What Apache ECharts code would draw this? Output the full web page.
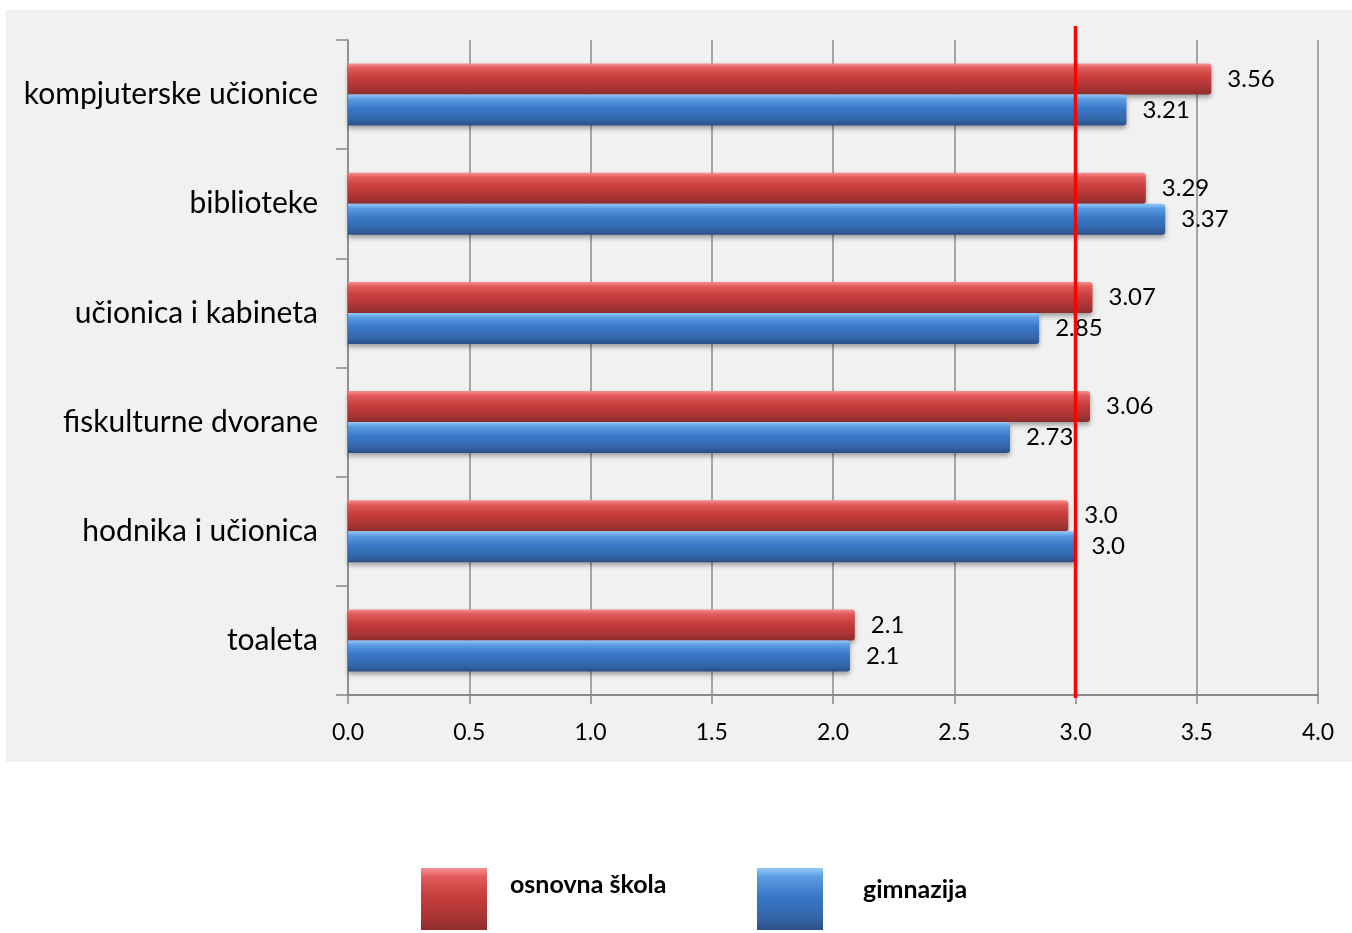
<!DOCTYPE html>
<html>
<head>
<meta charset="utf-8">
<script src="https://cdn.jsdelivr.net/npm/echarts@6/dist/echarts.min.js"></script>
<style>html,body{margin:0;padding:0;background:#fff}#c{width:1352px;height:933px}</style>
</head>
<body>
<div id="c"></div>
<script>
const categories = ['kompjuterske učionice','biblioteke','učionica i kabineta','fiskulturne dvorane','hodnika i učionica','toaleta'];
const osnovnaValues = [3.56, 3.29, 3.07, 3.06, 2.97, 2.09];
const osnovnaLabels = ['3.56','3.29','3.07','3.06','3.0','2.1'];
const gimnazijaValues = [3.21, 3.37, 2.85, 2.73, 3.0, 2.07];
const gimnazijaLabels = ['3.21','3.37','2.85','2.73','3.0','2.1'];
const xTicks = [0, 0.5, 1, 1.5, 2, 2.5, 3, 3.5, 4];
const thresholdValue = 3.0;

const FONT = 'Lato';
const chart = echarts.init(document.getElementById('c'));

function grad(stops){
  return new echarts.graphic.LinearGradient(0,0,0,1, stops.map((c,i)=>({offset:c[0], color:c[1]})));
}
const redGrad = grad([[0,'#f59090'],[0.15,'#e25a5a'],[0.45,'#c83d3d'],[0.8,'#a83434'],[1,'#8e2d2d']]);
const blueGrad = grad([[0,'#94c8f8'],[0.15,'#5a9be2'],[0.45,'#3a78c8'],[0.8,'#3366aa'],[1,'#2c4f86']]);

const gridLeft = 348, gridRight = 34, gridTop = 40, gridBottom = 238;

chart.setOption({
  backgroundColor: '#ffffff',
  animation: false,
  graphic: [{
    type: 'rect', left: 6, top: 10, z: -10, silent: true,
    shape: {width: 1346, height: 752},
    style: {fill: '#f1f1f1'}
  }],
  legend: [{
    data: ['osnovna škola'], left: 416, top: 863,
    itemWidth: 66, itemHeight: 62, icon: 'rect',
    formatter: n => '{t|' + n + '}',
    textStyle: {rich: {t: {fontFamily: FONT, fontSize: 25, fontWeight: 'bold', color: '#000', padding: [0,0,28,18]}}}
  },{
    data: ['gimnazija'], left: 752, top: 863,
    itemWidth: 66, itemHeight: 62, icon: 'rect',
    formatter: n => '{t|' + n + '}',
    textStyle: {rich: {t: {fontFamily: FONT, fontSize: 25, fontWeight: 'bold', color: '#000', padding: [0,0,18,35]}}}
  }],
  grid: [
    {left: gridLeft, right: gridRight, top: gridTop, bottom: gridBottom, containLabel: false},
    {left: gridLeft, right: gridRight, top: 26, bottom: 235, containLabel: false}
  ],
  xAxis: [{
    type: 'value', gridIndex: 0, min: 0, max: 4, interval: 0.5,
    axisLine: {show: true, lineStyle: {color: '#888', width: 2}},
    axisTick: {show: true, length: 9, lineStyle: {color: '#888', width: 1.5}},
    splitLine: {show: true, lineStyle: {color: '#8c8c8c', width: 1.5}},
    axisLabel: {fontFamily: FONT, fontSize: 23, color: '#000', margin: 26,
      formatter: v => xTicks.includes(v) ? v.toFixed(1) : ''}
  },{
    type: 'value', gridIndex: 1, min: 0, max: 4, show: false
  }],
  yAxis: [{
    type: 'category', gridIndex: 0, data: categories, inverse: true,
    axisLine: {show: true, lineStyle: {color: '#888', width: 1.5}},
    axisTick: {show: true, length: 12, alignWithLabel: false, lineStyle: {color: '#888', width: 1.5}},
    splitLine: {show: false},
    axisLabel: {fontFamily: FONT, fontSize: 30, color: '#000', margin: 30}
  },{
    type: 'value', gridIndex: 1, min: 0, max: 1, show: false
  }],
  series: [{
    name: 'osnovna škola', type: 'bar', xAxisIndex: 0, yAxisIndex: 0,
    data: osnovnaValues, barWidth: 31, barGap: '0%',
    itemStyle: {color: redGrad, borderRadius: [0,3,3,0], shadowColor: 'rgba(0,0,0,0.35)', shadowBlur: 5, shadowOffsetY: 3},
    label: {show: true, position: 'right', distance: 16, fontFamily: FONT, fontSize: 24, color: '#000',
      formatter: p => osnovnaLabels[p.dataIndex]}
  },{
    name: 'gimnazija', type: 'bar', xAxisIndex: 0, yAxisIndex: 0,
    data: gimnazijaValues, barWidth: 31, barGap: '0%',
    itemStyle: {color: blueGrad, borderRadius: [0,3,3,0], shadowColor: 'rgba(0,0,0,0.35)', shadowBlur: 5, shadowOffsetY: 3},
    label: {show: true, position: 'right', distance: 16, fontFamily: FONT, fontSize: 24, color: '#000',
      formatter: p => gimnazijaLabels[p.dataIndex]}
  },{
    name: 'threshold', type: 'line', xAxisIndex: 1, yAxisIndex: 1,
    data: [[thresholdValue, 0], [thresholdValue, 1]],
    symbol: 'none', z: 10, silent: true,
    lineStyle: {color: '#ff0000', width: 3.5}
  }]
});
</script>
</body>
</html>
